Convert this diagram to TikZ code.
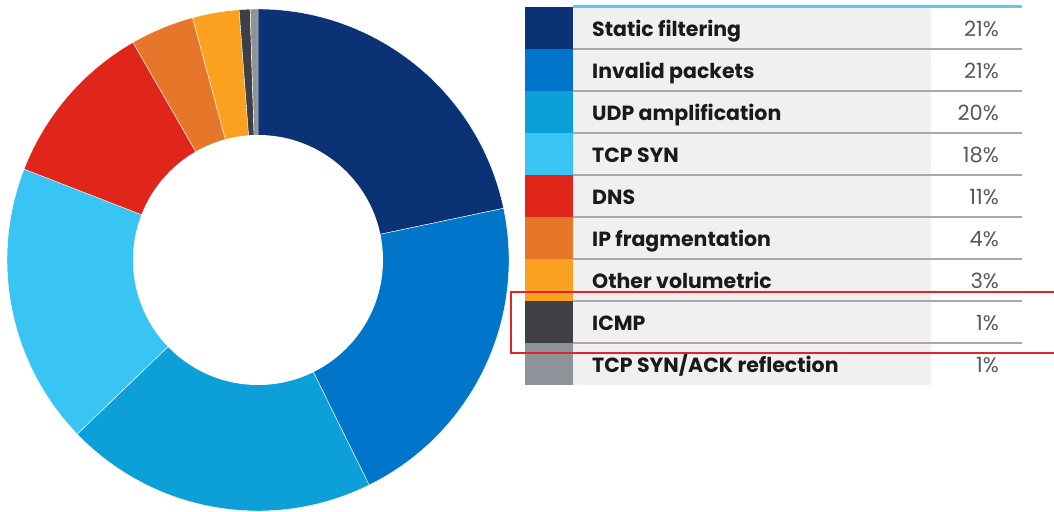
\documentclass[tikz,border=0pt]{standalone}
\usepackage{fontspec}
\setmainfont{Poppins}
\usetikzlibrary{calc}
\definecolor{cStatic}{HTML}{0A3275}
\definecolor{cInvalid}{HTML}{0075C9}
\definecolor{cUdp}{HTML}{0C9FD8}
\definecolor{cSyn}{HTML}{38C5F3}
\definecolor{cDns}{HTML}{E0251B}
\definecolor{cFrag}{HTML}{E5762A}
\definecolor{cOther}{HTML}{FBA01F}
\definecolor{cIcmp}{HTML}{3E4045}
\definecolor{cSynAck}{HTML}{8E939A}
\definecolor{tableBg}{HTML}{F1EFF0}
\definecolor{sepGray}{HTML}{A7A9AC}
\definecolor{topBlue}{HTML}{5BCBF5}
\definecolor{boxRed}{HTML}{E3222A}
\definecolor{labelInk}{HTML}{1A1A1A}
\definecolor{pctInk}{HTML}{55575C}

\begin{document}
\begin{tikzpicture}[x=1pt,y=1pt,
		labeltext/.style={anchor=base west,inner sep=0pt,text=labelInk,font=\bfseries\fontsize{20.5}{20.5}\selectfont},
		pcttext/.style={anchor=base east,inner sep=0pt,text=pctInk,font=\fontsize{21}{21}\selectfont}]
		\useasboundingbox (0,0) rectangle (1054,511);
		\pgfmathsetmacro{\outerR}{251}
		\pgfmathsetmacro{\innerR}{125}
		\coordinate (centre) at (258,251);
		
		% donut, clockwise from the top
		\foreach \from/\to/\col in {0/21.7/cStatic,21.7/42.7/cInvalid,42.7/62.8/cUdp,62.8/80.9/cSyn,80.9/91.7/cDns,91.7/95.8/cFrag,95.8/98.8/cOther,98.8/99.5/cIcmp,99.5/100/cSynAck} {
			\pgfmathsetmacro{\startA}{90-3.6*\from}
			\pgfmathsetmacro{\endA}{90-3.6*\to}
			\fill[\col,draw=white,line width=0.4pt] (centre) -- ++(\startA:\outerR pt) arc[start angle=\startA,end angle=\endA,radius=\outerR pt] -- cycle;
		}
		\fill[white] (centre) circle[radius=\innerR pt];
		
		% legend table
		\fill[tableBg] (573,504) rectangle (931,126);
		\draw[topBlue,line width=3pt] (573,504) -- (1022,504);
		\foreach \lab/\pct/\col [count=\i from 0] in {Static filtering/21\%/cStatic,Invalid packets/21\%/cInvalid,UDP amplification/20\%/cUdp,TCP SYN/18\%/cSyn,DNS/11\%/cDns,IP fragmentation/4\%/cFrag,Other volumetric/3\%/cOther,ICMP/1\%/cIcmp,{TCP SYN/ACK reflection}/1\%/cSynAck} {
			\pgfmathsetmacro{\rowTop}{504-42*\i}
			\fill[\col] (525,\rowTop) rectangle (573,\rowTop-42);
			\node[labeltext] (lab\i) at (592,\rowTop-30) {\lab};
			\node[pcttext] (pct\i) at (999,\rowTop-30) {\pct};
			\ifnum\i<8
				\draw[sepGray,line width=2pt] (573,\rowTop-42) -- (1022,\rowTop-42);
			\fi
		}
		
		% highlight
		\draw[boxRed,line width=2.5pt] (511,219) rectangle (1070,158);
	\end{tikzpicture}
\end{document}
